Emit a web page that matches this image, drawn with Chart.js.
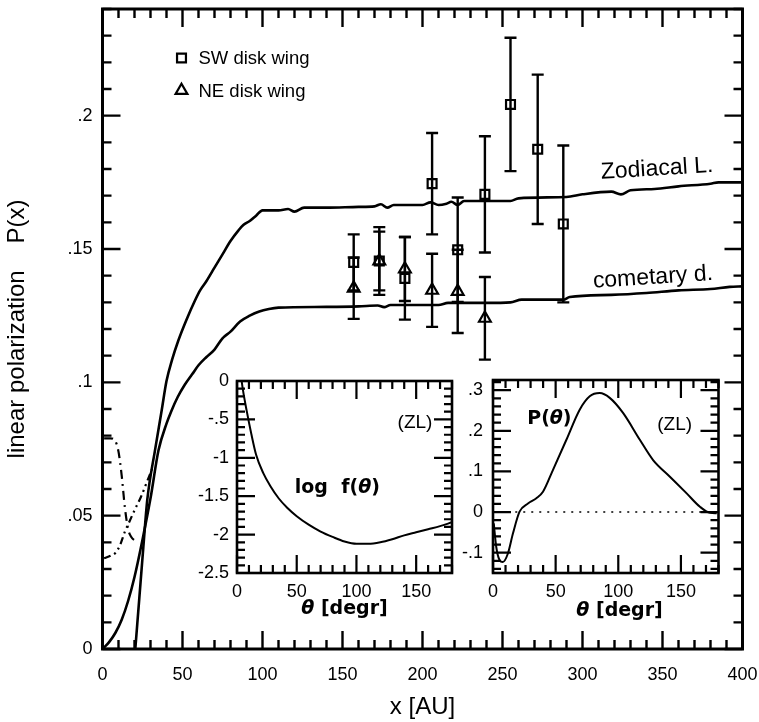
<!DOCTYPE html>
<html>
<head>
<meta charset="utf-8">
<script src="https://cdn.jsdelivr.net/npm/chart.js@4.4.1/dist/chart.umd.min.js"></script>
<style>
html, body { margin: 0; padding: 0; background: #fff; }
#wrap { position: relative; width: 759px; height: 722px; }
#wrap canvas { position: absolute; }
</style>
</head>
<body>
<div id="wrap">
  <canvas id="main" width="759" height="722" style="left:0;top:0"></canvas>
  <canvas id="inL" width="292" height="258" style="left:170px;top:370px"></canvas>
  <canvas id="inR" width="300" height="258" style="left:456px;top:370px"></canvas>
</div>
<script>
// main panel: P(x) model curves
const zlX = [20.5, 23, 25.5, 28, 32.8, 37, 40, 43.5, 47.4, 52.5, 57.8, 61, 65, 70, 75, 80, 85, 88, 92, 96, 100, 110, 116, 120, 126, 140, 160, 170, 174, 178, 182, 200, 205, 210, 215, 218, 222, 226, 240, 255, 260, 290, 300, 318, 324, 330, 345, 360, 380, 385, 400];
const zlY = [0, 0.019, 0.038, 0.056, 0.0745, 0.0895, 0.1005, 0.1085, 0.1157, 0.1235, 0.1307, 0.1345, 0.138, 0.143, 0.148, 0.153, 0.157, 0.159, 0.1605, 0.1625, 0.1645, 0.1645, 0.165, 0.164, 0.1655, 0.1655, 0.1658, 0.166, 0.1668, 0.1655, 0.1665, 0.1665, 0.1675, 0.1665, 0.167, 0.1677, 0.1665, 0.168, 0.168, 0.168, 0.169, 0.1695, 0.1705, 0.1715, 0.1705, 0.172, 0.1725, 0.1735, 0.1745, 0.175, 0.175];
const cdX = [0, 4, 8, 12, 16, 20, 25, 30, 35, 40, 43, 47, 51.5, 56, 60, 65, 70, 75, 80, 86, 92, 98, 104, 110, 140, 160, 172, 176, 180, 210, 216, 240, 255, 262, 288, 292, 318, 340, 360, 380, 392, 400];
const cdY = [0, 0.0025, 0.006, 0.011, 0.018, 0.027, 0.041, 0.0565, 0.0745, 0.0845, 0.0892, 0.0945, 0.0992, 0.103, 0.1064, 0.1095, 0.1123, 0.1165, 0.119, 0.1228, 0.125, 0.1266, 0.1275, 0.128, 0.1283, 0.1285, 0.1288, 0.1282, 0.129, 0.129, 0.1298, 0.1298, 0.13, 0.131, 0.131, 0.132, 0.1328, 0.1335, 0.1345, 0.135, 0.1358, 0.136];
const dashAX = [1, 5, 8, 10, 12, 14, 16, 18, 20, 22];
const dashAY = [0.079, 0.079, 0.078, 0.074, 0.065, 0.053, 0.045, 0.042, 0.0408, 0.0405];
const dashBX = [1, 5, 8, 11, 14, 17, 20, 24, 28, 31];
const dashBY = [0.034, 0.035, 0.036, 0.039, 0.044, 0.048, 0.052, 0.057, 0.063, 0.0675];

// observations
const swX = [157, 173, 189, 206, 222, 239, 255, 272, 288];
const swY = [0.145, 0.1455, 0.139, 0.1745, 0.1497, 0.1705, 0.2042, 0.1874, 0.1594];
const swErr = [0.0105, 0.0127, 0.0155, 0.019, 0.0196, 0.0218, 0.025, 0.028, 0.0294];
const neX = [157, 173, 189, 206, 222, 239];
const neY = [0.1353, 0.1455, 0.1425, 0.1345, 0.1341, 0.124];
const neErr = [0.0115, 0.011, 0.012, 0.0137, 0.0156, 0.0155];

const xTicks = [0, 50, 100, 150, 200, 250, 300, 350, 400];
const xTickText = ['0', '50', '100', '150', '200', '250', '300', '350', '400'];
const yTicks = [0, 0.05, 0.1, 0.15, 0.2];
const yTickText = ['0', '.05', '.1', '.15', '.2'];

// insets
const thetaTicks = [0, 50, 100, 150];
const thetaTickText = ['0', '50', '100', '150'];
const logfX = [3, 5, 8, 12, 16, 22, 28, 35, 42, 50, 60, 70, 80, 90, 100, 110, 120, 130, 140, 150, 160, 170, 180];
const logfY = [0.1, -0.12, -0.38, -0.69, -0.96, -1.2, -1.37, -1.53, -1.65, -1.76, -1.87, -1.96, -2.03, -2.09, -2.12, -2.12, -2.1, -2.06, -2.01, -1.97, -1.93, -1.89, -1.84];
const logfTicks = [-2.5, -2, -1.5, -1, -0.5, 0];
const logfTickText = ['-2.5', '-2', '-1.5', '-1', '-.5', '0'];
const polX = [0.6, 2.6, 5.2, 7.8, 11.9, 15.9, 21.2, 27.9, 34.6, 39.9, 47.9, 58.6, 69.2, 77.2, 85.2, 93.2, 103.8, 117.2, 127.8, 141.2, 154.6, 165.2, 173.2, 178.6];
const polY = [-0.028, -0.086, -0.118, -0.123, -0.102, -0.053, 0.001, 0.021, 0.034, 0.05, 0.104, 0.178, 0.252, 0.285, 0.293, 0.281, 0.244, 0.178, 0.128, 0.087, 0.046, 0.013, -0.002, -0.003];
const zeroX = [5, 180];
const zeroY = [0, 0];
const polTicks = [-0.1, 0, 0.1, 0.2, 0.3];
const polTickText = ['-.1', '0', '.1', '.2', '.3'];

const ink = '#000';
const sans = "'Liberation Sans', Arial, Helvetica, sans-serif";
const boldFont = "bold 19px 'DejaVu Sans', sans-serif";
const thetaFont = "italic bold 19px 'DejaVu Sans', sans-serif";

function pts(xs, ys) { return xs.map((x, i) => ({x: x, y: ys[i]})); }

function eachTick(min, max, step, majorStep, fn) {
  for (let i = Math.ceil(min / step - 1e-6); i * step <= max + 1e-9; i++) {
    const v = i * step;
    const r = v / majorStep;
    fn(v, Math.abs(r - Math.round(r)) < 1e-6);
  }
}

// box with inward ticks on all four sides
function frameTicks(o) {
  return {
    id: 'frameTicks',
    afterDraw(chart) {
      const {ctx, chartArea: a} = chart;
      const xs = chart.scales.x, ys = chart.scales.y;
      ctx.save();
      ctx.strokeStyle = ink;
      ctx.lineWidth = o.tickWidth;
      ctx.beginPath();
      eachTick(xs.min, xs.max, o.xMinor, o.xMajor, (v, major) => {
        const p = xs.getPixelForValue(v);
        const l = major ? o.majorLen : o.minorLen;
        ctx.moveTo(p, a.bottom); ctx.lineTo(p, a.bottom - l);
        ctx.moveTo(p, a.top); ctx.lineTo(p, a.top + l);
      });
      eachTick(ys.min, ys.max, o.yMinor, o.yMajor, (v, major) => {
        const p = ys.getPixelForValue(v);
        const l = major ? o.majorLen : o.minorLen;
        ctx.moveTo(a.left, p); ctx.lineTo(a.left + l, p);
        ctx.moveTo(a.right, p); ctx.lineTo(a.right - l, p);
      });
      ctx.stroke();
      ctx.lineWidth = o.frameWidth;
      ctx.strokeRect(a.left, a.top, a.right - a.left, a.bottom - a.top);
      ctx.restore();
    }
  };
}

// text placed in data units (or a pixel offset below the plot)
function notes(items) {
  return {
    id: 'notes',
    afterDraw(chart) {
      const {ctx, chartArea: a} = chart;
      const xs = chart.scales.x, ys = chart.scales.y;
      items.forEach(n => {
        const px = xs.getPixelForValue(n.x);
        const py = n.below != null ? a.bottom + n.below : ys.getPixelForValue(n.y);
        ctx.save();
        ctx.translate(px, py);
        ctx.rotate((n.rotate || 0) * Math.PI / 180);
        ctx.fillStyle = ink;
        ctx.textBaseline = 'middle';
        ctx.textAlign = 'left';
        let w = 0;
        n.parts.forEach(p => { ctx.font = p.font; w += ctx.measureText(p.t).width; });
        let cx = -w / 2;
        n.parts.forEach(p => { ctx.font = p.font; ctx.fillText(p.t, cx, 0); cx += ctx.measureText(p.t).width; });
        ctx.restore();
      });
    }
  };
}

const errorBars = {
  id: 'errorBars',
  beforeDatasetsDraw(chart) {
    const ctx = chart.ctx, ys = chart.scales.y;
    ctx.save();
    ctx.strokeStyle = ink;
    ctx.lineWidth = 2.4;
    chart.data.datasets.forEach((ds, di) => {
      if (!ds.err) return;
      chart.getDatasetMeta(di).data.forEach((el, i) => {
        const top = ys.getPixelForValue(ds.data[i].y + ds.err[i]);
        const bot = ys.getPixelForValue(ds.data[i].y - ds.err[i]);
        ctx.beginPath();
        ctx.moveTo(el.x, top); ctx.lineTo(el.x, bot);
        ctx.moveTo(el.x - 6, top); ctx.lineTo(el.x + 6, top);
        ctx.moveTo(el.x - 6, bot); ctx.lineTo(el.x + 6, bot);
        ctx.stroke();
      });
    });
    ctx.restore();
  }
};

const key = {
  id: 'key',
  afterDraw(chart) {
    const {ctx, chartArea: a} = chart;
    const rows = chart.data.datasets.filter(ds => ds.err);
    rows.forEach((ds, r) => {
      const mx = a.left + 79, my = a.top + 49 + r * 32.5;
      ctx.save();
      ctx.strokeStyle = ink;
      ctx.fillStyle = 'rgba(0,0,0,0)';
      ctx.lineWidth = ds.borderWidth;
      Chart.helpers.drawPoint(ctx, {pointStyle: ds.pointStyle, radius: ds.pointRadius, borderWidth: ds.borderWidth, rotation: 0}, mx, my);
      ctx.fillStyle = ink;
      ctx.font = '18.5px ' + sans;
      ctx.textBaseline = 'middle';
      ctx.fillText(ds.label, mx + 17, my + 1);
      ctx.restore();
    });
  }
};

function fixedTicks(values) {
  return s => { s.ticks = values.map(v => ({value: v})); };
}

// fixed scale box size, no extra room for overhanging labels
function fitTo(prop, size) {
  return s => {
    s[prop] = size;
    s.paddingLeft = s.paddingRight = s.paddingTop = s.paddingBottom = 0;
  };
}

const tickFont = {family: sans, size: 18};
const curve = {showLine: true, borderColor: ink, pointRadius: 0, cubicInterpolationMode: 'monotone', fill: false};

new Chart(document.getElementById('main'), {
  type: 'scatter',
  data: {
    datasets: [
      Object.assign({label: 'Zodiacal L.', data: pts(zlX, zlY), borderWidth: 2.6}, curve),
      Object.assign({label: 'cometary d.', data: pts(cdX, cdY), borderWidth: 2.6}, curve),
      Object.assign({label: 'A', data: pts(dashAX, dashAY), borderWidth: 2.2, borderDash: [9, 5, 2, 5]}, curve),
      Object.assign({label: 'B', data: pts(dashBX, dashBY), borderWidth: 2.2, borderDash: [7, 4, 2, 4, 2, 4]}, curve),
      {label: 'SW disk wing', data: pts(swX, swY), err: swErr, pointStyle: 'rect', pointRadius: 6.3,
       borderColor: ink, borderWidth: 2.2, backgroundColor: 'rgba(0,0,0,0)'},
      {label: 'NE disk wing', data: pts(neX, neY), err: neErr, pointStyle: 'triangle', pointRadius: 6.8,
       borderColor: ink, borderWidth: 2.2, backgroundColor: 'rgba(0,0,0,0)'}
    ]
  },
  options: {
    responsive: false,
    animation: false,
    events: [],
    layout: {padding: {top: 8, right: 16.5, left: 0, bottom: 0}},
    plugins: {legend: {display: false}, tooltip: {enabled: false}},
    scales: {
      x: {
        type: 'linear', min: 0, max: 400,
        afterBuildTicks: fixedTicks(xTicks),
        afterFit: fitTo('height', 73),
        grid: {display: false, drawTicks: false},
        border: {display: false},
        ticks: {font: tickFont, color: ink, padding: 15, maxRotation: 0, autoSkip: false,
                callback: (v, i) => xTickText[i]},
        title: {display: true, text: 'x [AU]', color: ink, font: {family: sans, size: 24}, padding: 0}
      },
      y: {
        type: 'linear', min: 0, max: 0.24,
        afterBuildTicks: fixedTicks(yTicks),
        afterFit: fitTo('width', 102.5),
        grid: {display: false, drawTicks: false},
        border: {display: false},
        ticks: {font: tickFont, color: ink, padding: 10, autoSkip: false,
                callback: (v, i) => yTickText[i]},
        title: {display: true, text: 'linear polarization    P(x)', color: ink,
                font: {family: sans, size: 24}, padding: {top: 3, bottom: 0}}
      }
    }
  },
  plugins: [
    errorBars,
    frameTicks({xMinor: 10, xMajor: 50, yMinor: 0.01, yMajor: 0.05, majorLen: 18, minorLen: 9, tickWidth: 2.4, frameWidth: 3}),
    notes([
      {x: 346.6, y: 0.180, rotate: -3.5, parts: [{t: 'Zodiacal L.', font: '23px ' + sans}]},
      {x: 344, y: 0.1393, rotate: -3.8, parts: [{t: 'cometary d.', font: '23px ' + sans}]}
    ]),
    key
  ]
});

function inset(id, data, yMin, yMax, yValues, yText, yMinor, yMajor, yWidth, pad, yPad, items) {
  return new Chart(document.getElementById(id), {
    type: 'scatter',
    data: {datasets: data},
    options: {
      responsive: false,
      animation: false,
      events: [],
      layout: {padding: pad},
      plugins: {legend: {display: false}, tooltip: {enabled: false}},
      scales: {
        x: {
          type: 'linear', min: 0, max: 180,
          afterBuildTicks: fixedTicks(thetaTicks),
          afterFit: fitTo('height', 55),
          grid: {display: false, drawTicks: false},
          border: {display: false},
          ticks: {font: tickFont, color: ink, padding: 8, maxRotation: 0, autoSkip: false,
                  callback: (v, i) => thetaTickText[i]}
        },
        y: {
          type: 'linear', min: yMin, max: yMax,
          afterBuildTicks: fixedTicks(yValues),
          afterFit: fitTo('width', yWidth),
          grid: {display: false, drawTicks: false},
          border: {display: false},
          ticks: {font: tickFont, color: ink, padding: yPad, autoSkip: false,
                  callback: (v, i) => yText[i]}
        }
      }
    },
    plugins: [
      frameTicks({xMinor: 10, xMajor: 50, yMinor: yMinor, yMajor: yMajor, majorLen: 18, minorLen: 8, tickWidth: 2.2, frameWidth: 2.6}),
      notes(items)
    ]
  });
}

inset('inL',
  [Object.assign({label: 'log f', data: pts(logfX, logfY), borderWidth: 2}, curve)],
  -2.5, 0, logfTicks, logfTickText, 0.1, 0.5, 67, {top: 11, right: 10, left: 0, bottom: 0}, 8,
  [
    {x: 84, y: -1.39, parts: [{t: 'log  f(', font: boldFont}, {t: 'θ', font: thetaFont}, {t: ')', font: boldFont}]},
    {x: 149, y: -0.545, parts: [{t: '(ZL)', font: '19px ' + sans}]},
    {x: 90, below: 36, parts: [{t: 'θ', font: thetaFont}, {t: ' [degr]', font: boldFont}]}
  ]);

inset('inR',
  [
    Object.assign({label: 'P', data: pts(polX, polY), borderWidth: 2}, curve),
    Object.assign({label: 'zero', data: pts(zeroX, zeroY), borderWidth: 1.6, borderDash: [2, 6]}, curve)
  ],
  -0.15, 0.325, polTicks, polTickText, 0.02, 0.1, 37, {top: 10, right: 37.5, left: 0, bottom: 0}, 10,
  [
    {x: 45, y: 0.23, parts: [{t: 'P(', font: boldFont}, {t: 'θ', font: thetaFont}, {t: ')', font: boldFont}]},
    {x: 145, y: 0.215, parts: [{t: '(ZL)', font: '19px ' + sans}]},
    {x: 101, below: 38, parts: [{t: 'θ', font: thetaFont}, {t: ' [degr]', font: boldFont}]}
  ]);
</script>
</body>
</html>
